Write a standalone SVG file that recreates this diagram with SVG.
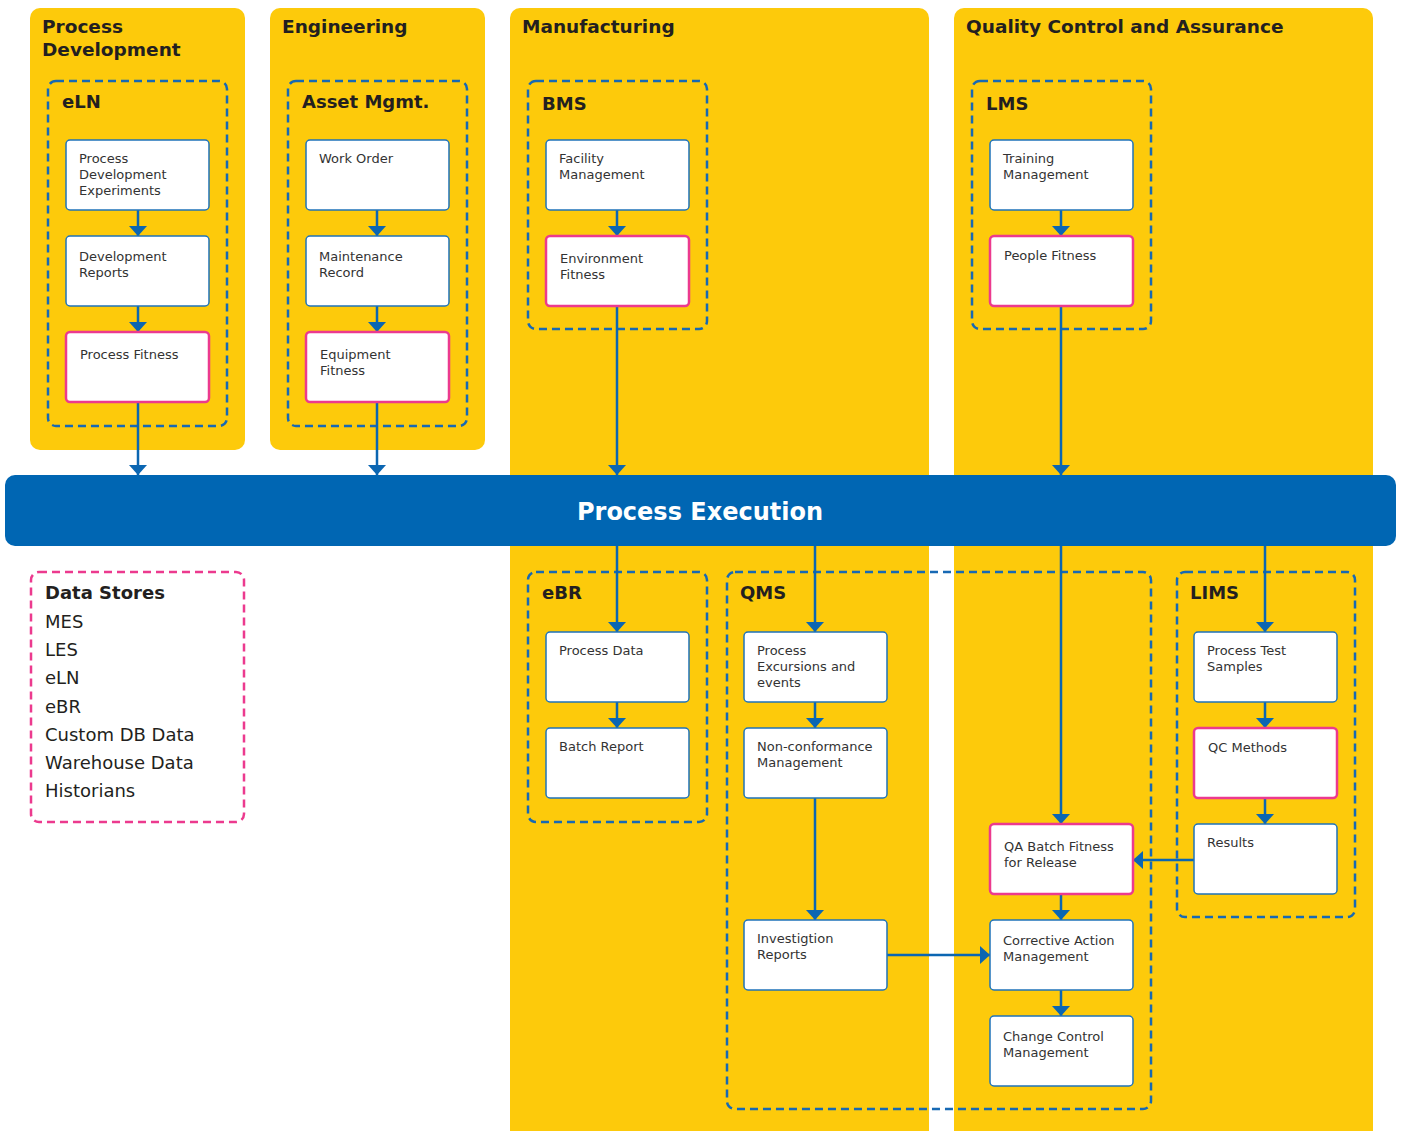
<svg xmlns="http://www.w3.org/2000/svg" width="1401" height="1131" viewBox="0 0 1401 1131">
<style>
.col{fill:#FDCA0B}
.grp{fill:none;stroke:#1769B4;stroke-width:2.5;stroke-dasharray:8 5}
.ds{fill:none;stroke:#EC3A8E;stroke-width:2.5;stroke-dasharray:8 5}
.n{fill:#fff;stroke:#1F73B9;stroke-width:1.5}
.p{fill:#fff;stroke:#EC3A8E;stroke-width:2.5}
.h{font-family:"DejaVu Sans",Verdana,sans-serif;font-weight:bold;font-size:18px;fill:#231F20}
.ch{font-family:"DejaVu Sans",Verdana,sans-serif;font-weight:bold;font-size:18.5px;fill:#231F20}
.t{font-family:"DejaVu Sans",Verdana,sans-serif;font-size:13px;fill:#333}
.d{font-family:"DejaVu Sans",Verdana,sans-serif;font-size:18px;fill:#231F20}
.c{fill:none;stroke:#0B66B2;stroke-width:2.5}
</style>
<defs>
<marker id="ah" markerUnits="userSpaceOnUse" viewBox="0 0 10 18" markerWidth="10" markerHeight="18" refX="10" refY="9" orient="auto">
<path d="M0,0 L10,9 L0,18 z" fill="#0B66B2"/>
</marker>
</defs>
<g id="columns">
<rect class="col" x="30" y="8" width="215" height="442" rx="10"/>
<rect class="col" x="270" y="8" width="215" height="442" rx="10"/>
<rect class="col" x="510" y="8" width="419" height="1135" rx="10"/>
<rect class="col" x="954" y="8" width="419" height="1135" rx="10"/>
<text class="ch" x="42" y="33">Process</text>
<text class="ch" x="42" y="56">Development</text>
<text class="ch" x="282" y="33">Engineering</text>
<text class="ch" x="522" y="33">Manufacturing</text>
<text class="ch" x="966" y="33">Quality Control and Assurance</text>
</g>
<g id="groups">
<rect class="grp" x="48" y="81" width="179" height="345" rx="8"/>
<text class="h" x="62" y="108">eLN</text>
<rect class="grp" x="288" y="81" width="179" height="345" rx="8"/>
<text class="h" x="302" y="108">Asset Mgmt.</text>
<rect class="grp" x="528" y="81" width="179" height="248" rx="8"/>
<text class="h" x="542" y="110">BMS</text>
<rect class="grp" x="972" y="81" width="179" height="248" rx="8"/>
<text class="h" x="986" y="110">LMS</text>
<rect class="grp" x="528" y="572" width="179" height="250" rx="8"/>
<text class="h" x="542" y="599">eBR</text>
<rect class="grp" x="727" y="572" width="424" height="537" rx="8"/>
<text class="h" x="740" y="599">QMS</text>
<rect class="grp" x="1177" y="572" width="178" height="345" rx="8"/>
<text class="h" x="1190" y="599">LIMS</text>
</g>
<g id="data-stores">
<rect class="ds" x="31" y="572" width="213" height="250" rx="8"/>
<text class="h" x="45" y="599">Data Stores</text>
<text class="d" x="45" y="628">MES</text>
<text class="d" x="45" y="656">LES</text>
<text class="d" x="45" y="684">eLN</text>
<text class="d" x="45" y="713">eBR</text>
<text class="d" x="45" y="741">Custom DB Data</text>
<text class="d" x="45" y="769">Warehouse Data</text>
<text class="d" x="45" y="797">Historians</text>
</g>
<g id="process-execution">
<rect x="5" y="475" width="1391" height="71" rx="10" fill="#0066B3"/>
<text x="700" y="520" text-anchor="middle" font-family="DejaVu Sans,Verdana,sans-serif" font-weight="bold" font-size="24" fill="#fff">Process Execution</text>
</g>
<g id="connectors">
<path class="c" marker-end="url(#ah)" d="M138,210V236"/>
<path class="c" marker-end="url(#ah)" d="M138,306V332"/>
<path class="c" marker-end="url(#ah)" d="M138,402V475"/>
<path class="c" marker-end="url(#ah)" d="M377,210V236"/>
<path class="c" marker-end="url(#ah)" d="M377,306V332"/>
<path class="c" marker-end="url(#ah)" d="M377,402V475"/>
<path class="c" marker-end="url(#ah)" d="M617,210V236"/>
<path class="c" marker-end="url(#ah)" d="M617,306V475"/>
<path class="c" marker-end="url(#ah)" d="M1061,210V236"/>
<path class="c" marker-end="url(#ah)" d="M1061,306V475"/>
<path class="c" marker-end="url(#ah)" d="M617,546V632"/>
<path class="c" marker-end="url(#ah)" d="M617,702V728"/>
<path class="c" marker-end="url(#ah)" d="M815,546V632"/>
<path class="c" marker-end="url(#ah)" d="M815,702V728"/>
<path class="c" marker-end="url(#ah)" d="M815,798V920"/>
<path class="c" marker-end="url(#ah)" d="M1061,546V824"/>
<path class="c" marker-end="url(#ah)" d="M1061,894V920"/>
<path class="c" marker-end="url(#ah)" d="M1061,990V1016"/>
<path class="c" marker-end="url(#ah)" d="M1265,546V632"/>
<path class="c" marker-end="url(#ah)" d="M1265,702V728"/>
<path class="c" marker-end="url(#ah)" d="M1265,798V824"/>
<path class="c" marker-end="url(#ah)" d="M1194,860H1133"/>
<path class="c" marker-end="url(#ah)" d="M887,955H990"/>
</g>
<g id="n-pde"><rect class="n" x="66" y="140" width="143" height="70" rx="4"/><text class="t" x="79" y="163">Process</text><text class="t" x="79" y="179">Development</text><text class="t" x="79" y="195">Experiments</text></g>
<g id="n-devrep"><rect class="n" x="66" y="236" width="143" height="70" rx="4"/><text class="t" x="79" y="261">Development</text><text class="t" x="79" y="277">Reports</text></g>
<g id="n-procfit"><rect class="p" x="66" y="332" width="143" height="70" rx="4"/><text class="t" x="80" y="359">Process Fitness</text></g>
<g id="n-workorder"><rect class="n" x="306" y="140" width="143" height="70" rx="4"/><text class="t" x="319" y="163">Work Order</text></g>
<g id="n-maint"><rect class="n" x="306" y="236" width="143" height="70" rx="4"/><text class="t" x="319" y="261">Maintenance</text><text class="t" x="319" y="277">Record</text></g>
<g id="n-equipfit"><rect class="p" x="306" y="332" width="143" height="70" rx="4"/><text class="t" x="320" y="359">Equipment</text><text class="t" x="320" y="375">Fitness</text></g>
<g id="n-facility"><rect class="n" x="546" y="140" width="143" height="70" rx="4"/><text class="t" x="559" y="163">Facility</text><text class="t" x="559" y="179">Management</text></g>
<g id="n-envfit"><rect class="p" x="546" y="236" width="143" height="70" rx="4"/><text class="t" x="560" y="263">Environment</text><text class="t" x="560" y="279">Fitness</text></g>
<g id="n-training"><rect class="n" x="990" y="140" width="143" height="70" rx="4"/><text class="t" x="1003" y="163">Training</text><text class="t" x="1003" y="179">Management</text></g>
<g id="n-peoplefit"><rect class="p" x="990" y="236" width="143" height="70" rx="4"/><text class="t" x="1004" y="260">People Fitness</text></g>
<g id="n-procdata"><rect class="n" x="546" y="632" width="143" height="70" rx="4"/><text class="t" x="559" y="655">Process Data</text></g>
<g id="n-batchrep"><rect class="n" x="546" y="728" width="143" height="70" rx="4"/><text class="t" x="559" y="751">Batch Report</text></g>
<g id="n-excursions"><rect class="n" x="744" y="632" width="143" height="70" rx="4"/><text class="t" x="757" y="655">Process</text><text class="t" x="757" y="671">Excursions and</text><text class="t" x="757" y="687">events</text></g>
<g id="n-nonconf"><rect class="n" x="744" y="728" width="143" height="70" rx="4"/><text class="t" x="757" y="751">Non-conformance</text><text class="t" x="757" y="767">Management</text></g>
<g id="n-invest"><rect class="n" x="744" y="920" width="143" height="70" rx="4"/><text class="t" x="757" y="943">Investigtion</text><text class="t" x="757" y="959">Reports</text></g>
<g id="n-qabatch"><rect class="p" x="990" y="824" width="143" height="70" rx="4"/><text class="t" x="1004" y="851">QA Batch Fitness</text><text class="t" x="1004" y="867">for Release</text></g>
<g id="n-capa"><rect class="n" x="990" y="920" width="143" height="70" rx="4"/><text class="t" x="1003" y="945">Corrective Action</text><text class="t" x="1003" y="961">Management</text></g>
<g id="n-change"><rect class="n" x="990" y="1016" width="143" height="70" rx="4"/><text class="t" x="1003" y="1041">Change Control</text><text class="t" x="1003" y="1057">Management</text></g>
<g id="n-testsamples"><rect class="n" x="1194" y="632" width="143" height="70" rx="4"/><text class="t" x="1207" y="655">Process Test</text><text class="t" x="1207" y="671">Samples</text></g>
<g id="n-qcmethods"><rect class="p" x="1194" y="728" width="143" height="70" rx="4"/><text class="t" x="1208" y="752">QC Methods</text></g>
<g id="n-results"><rect class="n" x="1194" y="824" width="143" height="70" rx="4"/><text class="t" x="1207" y="847">Results</text></g>
</svg>
